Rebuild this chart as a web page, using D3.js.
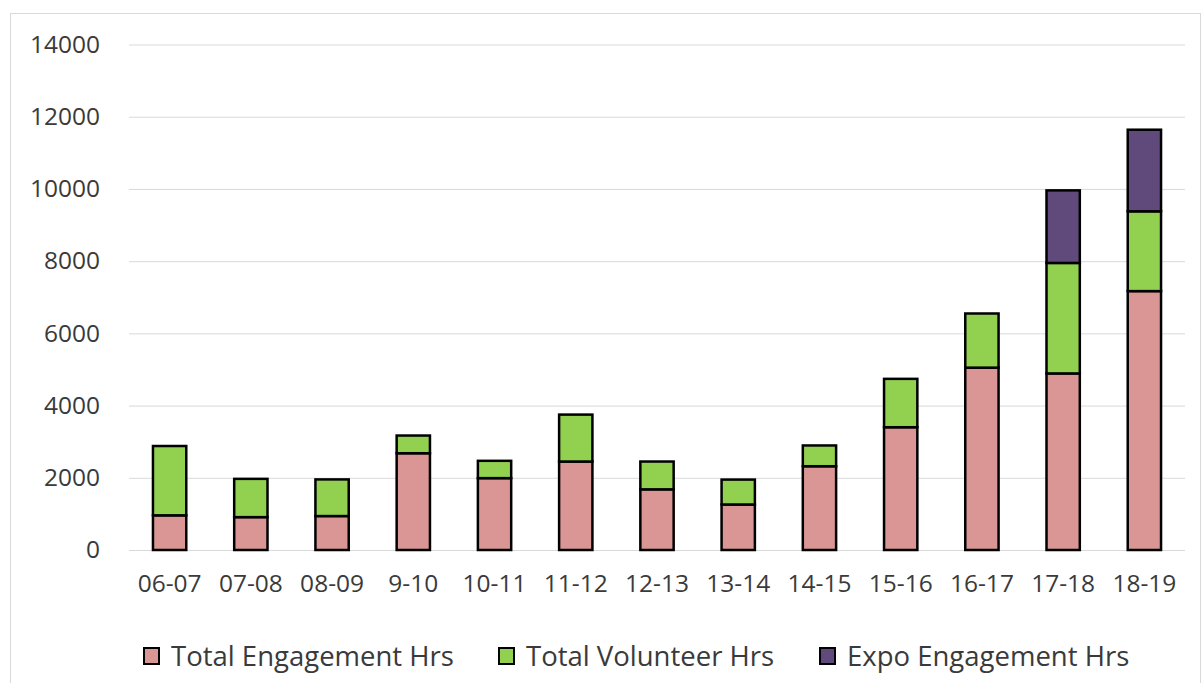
<!DOCTYPE html>
<html><head><meta charset="utf-8">
<script src="https://cdn.jsdelivr.net/npm/d3@7"></script>
<style>body{margin:0;background:#fff}svg{display:block}</style>
</head><body>
<svg id="c" width="1202" height="683"></svg>
<script>
const categories = ["06-07","07-08","08-09","9-10","10-11","11-12","12-13","13-14","14-15","15-16","16-17","17-18","18-19"];
const engagement = [960, 910, 940, 2680, 1990, 2450, 1680, 1260, 2320, 3400, 5050, 4890, 7170];
const volunteer  = [1920, 1060, 1015, 490, 480, 1300, 770, 690, 575, 1340, 1500, 3060, 2210];
const expo       = [0, 0, 0, 0, 0, 0, 0, 0, 0, 0, 0, 2010, 2260];
const seriesNames = ["Total Engagement Hrs","Total Volunteer Hrs","Expo Engagement Hrs"];
const seriesColors = ["#d99694","#92d050","#604a7b"];
const yTicks = [0,2000,4000,6000,8000,10000,12000,14000];

const svg = d3.select("#c");
const font = "'Open Sans', sans-serif";
svg.append("rect").attr("x",10.5).attr("y",13.5).attr("width",1190).attr("height",700)
  .attr("fill","none").attr("stroke","#d9d9d9").attr("stroke-width",1);

const x = d3.scaleBand().domain(categories).range([129,1185]).paddingInner(0.59).paddingOuter(0.295);
const y = d3.scaleLinear().domain([0,14000]).range([550,44.5]);

const yAxis = svg.append("g").attr("transform","translate(129,0)")
  .call(d3.axisLeft(y).tickValues(yTicks).tickSize(-1056).tickPadding(29).tickFormat(d3.format("d")));
yAxis.select(".domain").remove();
yAxis.selectAll(".tick line").attr("stroke","#d9d9d9").attr("stroke-width",1);
yAxis.selectAll("text").attr("fill","#3a3a3a").style("font-family",font).style("font-size","24.5px");

const xAxis = svg.append("g").attr("transform","translate(0,550)")
  .call(d3.axisBottom(x).tickSize(0).tickPadding(25));
xAxis.select(".domain").remove();
xAxis.selectAll("text").attr("fill","#3a3a3a").style("font-family",font).style("font-size","24.5px");

const rows = categories.map((c,i)=>({cat:c, e:engagement[i], v:volunteer[i], x:expo[i]}));
const stack = d3.stack().keys(["e","v","x"])(rows);
stack.forEach((layer,k)=>{
  svg.append("g").selectAll("rect").data(layer.filter(d=>d[1]-d[0]>0)).join("rect")
    .attr("x",d=>x(d.data.cat)).attr("width",x.bandwidth())
    .attr("y",d=>y(d[1])).attr("height",d=>y(d[0])-y(d[1]))
    .attr("fill",seriesColors[k]).attr("stroke","#000").attr("stroke-width",2.5);
});

const legX = [143, 498, 819];
const leg = svg.append("g");
seriesNames.forEach((n,i)=>{
  leg.append("rect").attr("x",legX[i]+1).attr("y",648).attr("width",15).attr("height",16)
    .attr("fill",seriesColors[i]).attr("stroke","#000").attr("stroke-width",2);
  leg.append("text").attr("x",legX[i]+28).attr("y",666).text(n)
    .attr("fill","#3a3a3a").style("font-family",font).style("font-size","27.5px");
});
</script>
</body></html>
